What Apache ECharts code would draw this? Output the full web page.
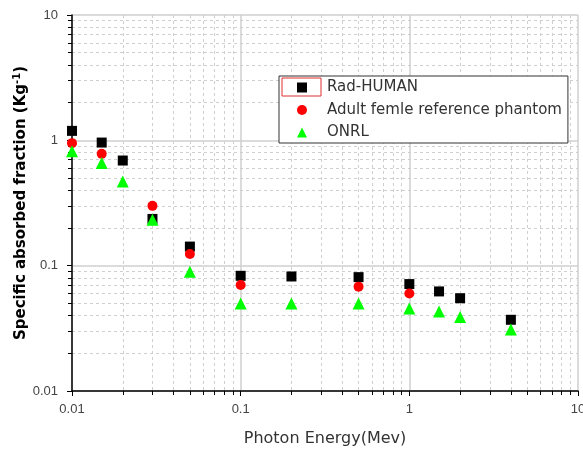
<!DOCTYPE html>
<html>
<head>
<meta charset="utf-8">
<script src="https://cdn.jsdelivr.net/npm/echarts@6/dist/echarts.min.js"></script>
<style>
  html, body { margin: 0; padding: 0; background: #fff; }
  #chart { width: 583px; height: 450px; }
</style>
</head>
<body>
<div id="chart"></div>
<script>
// Photon energies (MeV) and specific absorbed fractions (kg^-1)
const radHuman = [
  [0.01, 1.19], [0.015, 0.96], [0.02, 0.69], [0.03, 0.236], [0.05, 0.142],
  [0.1, 0.083], [0.2, 0.082], [0.5, 0.081], [1, 0.0713], [1.5, 0.0623],
  [2, 0.055], [4, 0.037]
];
const adultFemale = [
  [0.01, 0.95], [0.015, 0.78], [0.03, 0.30], [0.05, 0.124],
  [0.1, 0.070], [0.5, 0.068], [1, 0.060]
];
const onrl = [
  [0.01, 0.82], [0.015, 0.66], [0.02, 0.47], [0.03, 0.232], [0.05, 0.0895],
  [0.1, 0.050], [0.2, 0.050], [0.5, 0.050], [1, 0.0456], [1.5, 0.043],
  [2, 0.039], [4, 0.031]
];
const logTickLabels = { 0.01: '0.01', 0.1: '0.1', 1: '1', 10: '10' };

const chart = echarts.init(document.getElementById('chart'));

const axisCommon = {
  type: 'log',
  logBase: 10,
  min: 0.01,
  max: 10,
  axisLine: { show: true, lineStyle: { color: '#000', width: 1.5 } },
  axisTick: { show: true, inside: false, length: 5, lineStyle: { color: '#000' } },
  minorTick: { show: true, splitNumber: 9, length: 4, lineStyle: { color: '#000' } },
  splitLine: { show: true, lineStyle: { color: '#cfcfcf', width: 1.5 } },
  minorSplitLine: { show: true, lineStyle: { color: '#cfcfcf', type: [3, 3] } },
  axisLabel: {
    color: '#444',
    fontSize: 13,
    fontFamily: 'Liberation Sans',
    formatter: v => logTickLabels[+v.toPrecision(3)] || ''
  }
};

const option = {
  animation: false,
  grid: { left: 72, right: 5, top: 15, bottom: 59, outerBoundsMode: 'none' },
  legend: {
    orient: 'vertical',
    left: 279,
    top: 76,
    backgroundColor: '#fff',
    borderColor: '#333',
    borderWidth: 1,
    padding: [4, 6, 3, 18],
    itemWidth: 10,
    itemHeight: 10,
    itemGap: 7.5,
    textStyle: {
      fontSize: 15, color: '#333', fontFamily: 'DejaVu Sans',
      padding: [0, 0, 0, 15]
    },
    data: ['Rad-HUMAN', 'Adult femle reference phantom', 'ONRL']
  },
  xAxis: Object.assign({}, axisCommon, {
    name: 'Photon Energy(Mev)',
    nameLocation: 'middle',
    nameGap: 40,
    nameTextStyle: { fontSize: 16, color: '#333', fontFamily: 'DejaVu Sans' },
    axisLabel: Object.assign({}, axisCommon.axisLabel, { margin: 12 })
  }),
  yAxis: Object.assign({}, axisCommon, {
    name: '{b|Specific absorbed fraction (Kg}{s|-1}{b|)}',
    nameLocation: 'middle',
    nameGap: 42,
    nameMoveOverlap: false,
    nameTextStyle: {
      rich: {
        b: { fontSize: 15, fontWeight: 'bold', color: '#000', fontFamily: 'DejaVu Sans' },
        s: { fontSize: 10, fontWeight: 'bold', color: '#000', fontFamily: 'DejaVu Sans', verticalAlign: 'top', padding: [0, 0, 8, 0] }
      }
    },
    axisLabel: Object.assign({}, axisCommon.axisLabel, { margin: 14 })
  }),
  graphic: [{
    type: 'rect',
    shape: { x: 282, y: 78, width: 39, height: 18 },
    style: { fill: 'none', stroke: '#e03030', lineWidth: 1 },
    z: 100
  }],
  series: [
    {
      name: 'Rad-HUMAN', type: 'scatter', data: radHuman,
      symbol: 'rect', symbolSize: 10, itemStyle: { color: '#000', opacity: 1 }, z: 3
    },
    {
      name: 'Adult femle reference phantom', type: 'scatter', data: adultFemale,
      symbol: 'circle', symbolSize: 10, itemStyle: { color: '#ff0000', opacity: 1 }, z: 4
    },
    {
      name: 'ONRL', type: 'scatter', data: onrl,
      symbol: 'triangle', symbolSize: 12, itemStyle: { color: '#00ff00', opacity: 1 }, z: 5
    }
  ]
};

chart.setOption(option);
</script>
</body>
</html>
